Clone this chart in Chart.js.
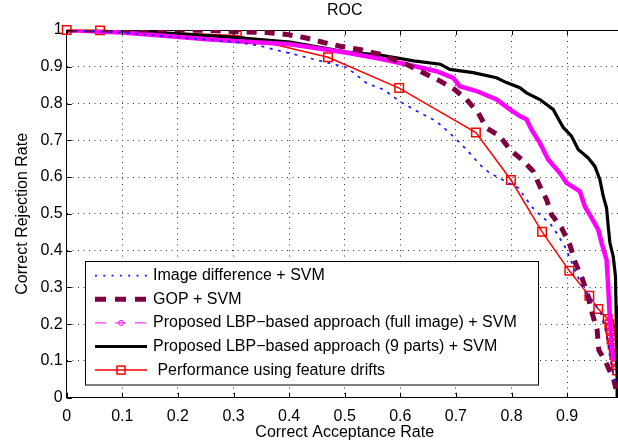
<!DOCTYPE html>
<html>
<head>
<meta charset="utf-8">
<script src="https://cdn.jsdelivr.net/npm/chart.js@4.4.1/dist/chart.umd.min.js"></script>
<style>
  html, body { margin: 0; padding: 0; background: #fff; overflow: hidden; }
  #wrap { width: 618px; height: 447px; overflow: hidden; }
  canvas { display: block; }
</style>
</head>
<body>
<div id="wrap"><canvas id="myChart" width="648" height="447"></canvas></div>
<script>
const xTicks = [0, 0.1, 0.2, 0.3, 0.4, 0.5, 0.6, 0.7, 0.8, 0.9, 1];
const yTicks = [0, 0.1, 0.2, 0.3, 0.4, 0.5, 0.6, 0.7, 0.8, 0.9, 1];

const seriesNames = [
  'Image difference + SVM',
  'GOP + SVM',
  'Proposed LBP\u2212based approach (full image) + SVM',
  'Proposed LBP\u2212based approach (9 parts) + SVM',
  ' Performance using feature drifts'
];

// [correct acceptance rate, correct rejection rate]
const imageDiff = [
  [0, 1], [0.1, 0.993], [0.2, 0.98], [0.3, 0.968], [0.345, 0.958], [0.378, 0.945],
  [0.414, 0.932], [0.456, 0.916], [0.504, 0.898], [0.54, 0.855], [0.57, 0.838],
  [0.6, 0.805], [0.635, 0.775], [0.665, 0.752], [0.695, 0.711], [0.719, 0.675],
  [0.743, 0.634], [0.761, 0.611], [0.788, 0.589], [0.812, 0.571], [0.836, 0.52],
  [0.854, 0.493], [0.869, 0.475], [0.881, 0.448], [0.896, 0.411], [0.902, 0.39],
  [0.924, 0.312], [0.939, 0.275], [0.96, 0.234], [0.972, 0.166], [0.977, 0.112],
  [0.983, 0.066], [0.986, 0.03]
];

const gopSvm = [
  [0, 1], [0.2, 1], [0.25, 0.999], [0.3, 0.996], [0.36, 0.993], [0.396, 0.988],
  [0.429, 0.979], [0.462, 0.966], [0.492, 0.956], [0.527, 0.947], [0.563, 0.934],
  [0.611, 0.907], [0.641, 0.884], [0.672, 0.861], [0.698, 0.838], [0.719, 0.811],
  [0.74, 0.775], [0.755, 0.734], [0.779, 0.711], [0.797, 0.675], [0.818, 0.648],
  [0.839, 0.616], [0.851, 0.575], [0.863, 0.539], [0.872, 0.498], [0.89, 0.462],
  [0.905, 0.416], [0.915, 0.366], [0.927, 0.325], [0.937, 0.28], [0.945, 0.23],
  [0.954, 0.184], [0.957, 0.13], [0.972, 0.089], [0.984, 0.048], [0.99, 0.01]
];

const lbpFull = [
  [0, 1], [0.1, 0.993], [0.18, 0.984], [0.252, 0.975], [0.3, 0.97], [0.402, 0.961],
  [0.504, 0.938], [0.564, 0.922], [0.624, 0.902], [0.665, 0.888], [0.695, 0.87],
  [0.707, 0.847], [0.737, 0.834], [0.773, 0.811], [0.797, 0.784], [0.815, 0.766],
  [0.827, 0.757], [0.836, 0.729], [0.851, 0.693], [0.866, 0.648], [0.887, 0.611],
  [0.899, 0.584], [0.923, 0.561], [0.932, 0.52], [0.944, 0.489], [0.956, 0.457],
  [0.962, 0.421], [0.971, 0.375], [0.974, 0.3], [0.977, 0.212], [0.98, 0.16],
  [0.983, 0.1]
];

const lbpParts = [
  [0, 1], [0.1, 0.997], [0.2, 0.99], [0.3, 0.98], [0.402, 0.967], [0.504, 0.94],
  [0.564, 0.932], [0.624, 0.916], [0.672, 0.907], [0.689, 0.893], [0.731, 0.884],
  [0.773, 0.87], [0.791, 0.857], [0.815, 0.843], [0.827, 0.829], [0.851, 0.811],
  [0.875, 0.784], [0.893, 0.735], [0.908, 0.711], [0.92, 0.675], [0.938, 0.652],
  [0.95, 0.629], [0.959, 0.593], [0.965, 0.548], [0.971, 0.516], [0.974, 0.466],
  [0.977, 0.421], [0.983, 0.384], [0.987, 0.33], [0.988, 0.25], [0.989, 0.15],
  [0.99, 0.05], [0.99, 0]
];

const featureDrifts = [
  [0, 1], [0.06, 0.999], [0.306, 0.985], [0.47, 0.926], [0.598, 0.842],
  [0.736, 0.721], [0.799, 0.592], [0.855, 0.451], [0.904, 0.345], [0.94, 0.277],
  [0.956, 0.241], [0.973, 0.214], [0.976, 0.2], [0.978, 0.186], [0.979, 0.172],
  [0.98, 0.158], [0.982, 0.144], [0.984, 0.13], [0.985, 0.116], [0.987, 0.102],
  [0.988, 0.088], [0.99, 0.074]
];

const toPts = arr => arr.map(p => ({ x: p[0], y: p[1] }));
const FONT = '"Liberation Sans", Arial, Helvetica, sans-serif';
Chart.defaults.font.family = FONT;
Chart.defaults.font.size = 16;
Chart.defaults.color = '#000';

// MATLAB style ticks pointing into the axes
const innerTicks = {
  id: 'innerTicks',
  afterDatasetsDraw(chart) {
    const { ctx, chartArea: a, scales } = chart;
    ctx.save();
    ctx.strokeStyle = '#000';
    ctx.lineWidth = 1;
    ctx.beginPath();
    xTicks.forEach(v => {
      const x = Math.round(scales.x.getPixelForValue(v)) + 0.5;
      ctx.moveTo(x, a.bottom); ctx.lineTo(x, a.bottom - 5);
      ctx.moveTo(x, a.top); ctx.lineTo(x, a.top + 5);
    });
    yTicks.forEach(v => {
      const y = Math.round(scales.y.getPixelForValue(v)) + 0.5;
      ctx.moveTo(a.left, y); ctx.lineTo(a.left + 5, y);
    });
    ctx.stroke();
    ctx.restore();
  }
};

// legend box drawn inside the axes, like MATLAB's
const legendBox = {
  id: 'legendBox',
  afterDraw(chart) {
    const ctx = chart.ctx;
    const x0 = 85.5, y0 = 261.5, w = 453, h = 123.5;
    ctx.save();
    ctx.fillStyle = '#fff';
    ctx.fillRect(x0, y0, w, h);
    ctx.strokeStyle = '#000';
    ctx.lineWidth = 1;
    ctx.strokeRect(x0, y0, w, h);
    chart.data.datasets.forEach((ds, i) => {
      const y = 275.7 + i * 23.6;
      ctx.beginPath();
      ctx.strokeStyle = ds.borderColor;
      ctx.lineWidth = ds.legendWidth || ds.borderWidth;
      ctx.setLineDash(ds.legendDash || ds.borderDash || []);
      ctx.moveTo(95, y);
      ctx.lineTo(147, y);
      ctx.stroke();
      ctx.setLineDash([]);
      if (ds.legendMarker === 'circle') {
        ctx.beginPath();
        ctx.lineWidth = 1;
        ctx.arc(121, y, 2.5, 0, Math.PI * 2);
        ctx.stroke();
      }
      if (ds.pointStyle === 'rect') {
        ctx.lineWidth = 1.5;
        ctx.strokeRect(117, y - 4, 8, 8);
      }
      ctx.fillStyle = '#000';
      ctx.font = '16px ' + FONT;
      ctx.textBaseline = 'middle';
      ctx.textAlign = 'left';
      ctx.fillText(ds.label, 153, y);
    });
    ctx.restore();
  }
};

const setTicks = list => scale => { scale.ticks = list.map(v => ({ value: v })); };

new Chart(
  document.getElementById('myChart'),
  {
    type: 'scatter',
    data: {
      datasets: [
        {
          label: seriesNames[0],
          data: toPts(imageDiff),
          showLine: true,
          borderColor: '#1a1aff',
          borderWidth: 1.7,
          borderDash: [3, 5.5],
          legendDash: [2, 6.3],
          pointRadius: 0
        },
        {
          label: seriesNames[1],
          data: toPts(gopSvm),
          showLine: true,
          borderColor: '#7f0040',
          borderWidth: 5,
          borderDash: [10, 8],
          legendDash: [11, 9],
          pointRadius: 0
        },
        {
          label: seriesNames[2],
          data: toPts(lbpFull),
          showLine: true,
          borderColor: '#ff00ff',
          borderWidth: 4.5,
          legendWidth: 1,
          legendDash: [11, 9],
          legendMarker: 'circle',
          pointRadius: 0
        },
        {
          label: seriesNames[3],
          data: toPts(lbpParts),
          showLine: true,
          borderColor: '#000000',
          borderWidth: 3.2,
          pointRadius: 0
        },
        {
          label: seriesNames[4],
          data: toPts(featureDrifts),
          showLine: true,
          borderColor: '#ff0000',
          borderWidth: 1.5,
          pointStyle: 'rect',
          pointRadius: 6,
          pointBorderWidth: 1.5,
          pointBorderColor: '#ff0000',
          pointBackgroundColor: 'rgba(0,0,0,0)',
          clip: false
        }
      ]
    },
    options: {
      responsive: false,
      animation: false,
      devicePixelRatio: 1,
      layout: { padding: { left: 0, right: 25.3, top: 0, bottom: 0 } },
      plugins: {
        legend: { display: false },
        tooltip: { enabled: false }
      },
      scales: {
        x: {
          type: 'linear',
          position: 'bottom',
          min: 0,
          max: 1,
          afterBuildTicks: setTicks(xTicks),
          afterFit: scale => { scale.height = 49.3; },
          grid: { color: '#333', drawTicks: false },
          border: { color: '#000', width: 1, dash: [1, 4.5] },
          ticks: { padding: 9, maxRotation: 0, autoSkip: false, callback: v => String(v) },
          title: { display: true, text: 'Correct Acceptance Rate', padding: { top: 0, bottom: 4.4 } }
        },
        xTop: {
          type: 'linear',
          position: 'top',
          min: 0,
          max: 1,
          afterFit: scale => { scale.height = 30; },
          grid: { display: false, drawTicks: false },
          border: { color: '#000', width: 1 },
          ticks: { display: false },
          title: { display: true, text: 'ROC', padding: { top: 1.4, bottom: 0 } }
        },
        y: {
          type: 'linear',
          min: 0,
          max: 1,
          afterBuildTicks: setTicks(yTicks),
          afterFit: scale => { scale.width = 66.7; },
          grid: { color: '#333', drawTicks: false },
          border: { color: '#000', width: 1, dash: [1, 4.5] },
          ticks: { padding: 4, autoSkip: false, callback: v => String(v) },
          title: { display: true, text: 'Correct Rejection Rate', padding: { top: 13, bottom: 0 } }
        }
      }
    },
    plugins: [innerTicks, legendBox]
  }
);
</script>
</body>
</html>
